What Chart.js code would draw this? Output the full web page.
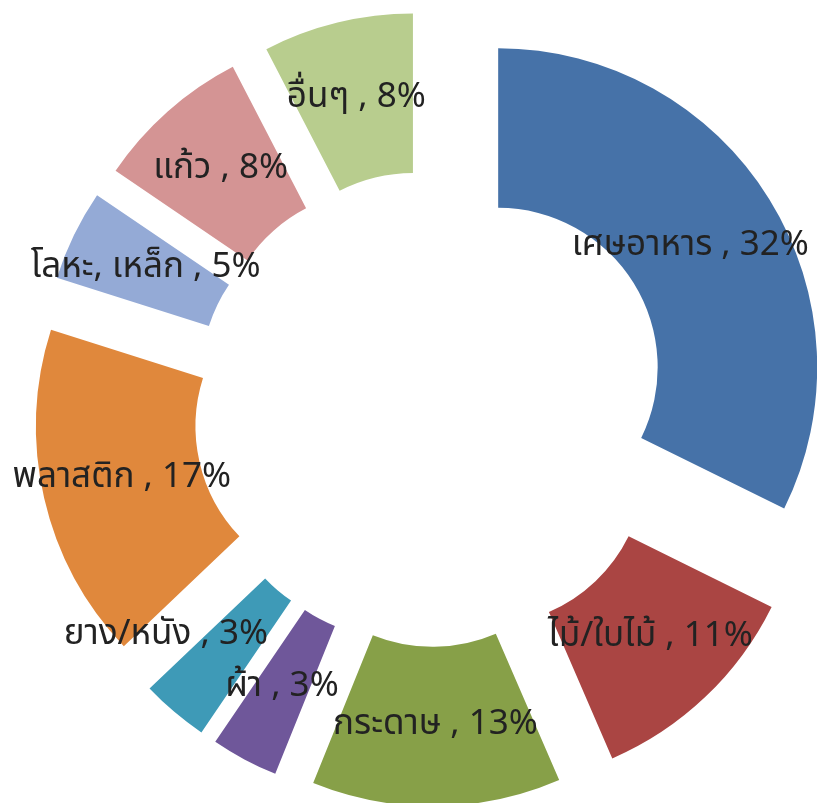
<!DOCTYPE html>
<html>
<head>
<meta charset="utf-8">
<script src="https://cdn.jsdelivr.net/npm/chart.js@4"></script>
<style>
  html, body { margin: 0; padding: 0; background: #fff; }
  #wrap { width: 817px; height: 803px; position: relative; }
</style>
</head>
<body>
<div id="wrap"><canvas id="c"></canvas></div>
<script>
// Share of each waste type (%); labels show the rounded value
const categories = ['เศษอาหาร', 'ไม้/ใบไม้', 'กระดาษ', 'ผ้า', 'ยาง/หนัง', 'พลาสติก', 'โลหะ, เหล็ก', 'แก้ว', 'อื่นๆ'];
const percentages = [32.3, 11.2, 12.6, 3.4, 3.4, 17.0, 4.6, 7.9, 7.6];
const sliceColors = ['#4672A8', '#AA4543', '#87A048', '#6F579A', '#3E9AB7', '#E0883C', '#94AAD6', '#D49494', '#B8CD8E'];

const explodePlugin = {
  id: 'explode',
  beforeDatasetDraw(chart, args, opts) {
    const ctx = chart.ctx;
    const d = opts.distance || 0;
    args.meta.data.forEach(arc => {
      const p = arc.getProps(['startAngle', 'endAngle']);
      const mid = (p.startAngle + p.endAngle) / 2;
      ctx.save();
      ctx.translate(Math.cos(mid) * d, Math.sin(mid) * d);
      arc.draw(ctx, chart.chartArea);
      ctx.restore();
    });
    return false;
  },
  afterDatasetsDraw(chart, args, opts) {
    const ctx = chart.ctx;
    const d = opts.distance || 0;
    const meta = chart.getDatasetMeta(0);
    const data = chart.data.datasets[0].data;
    const shifts = opts.labelShift || {};
    ctx.save();
    ctx.font = opts.font;
    ctx.fillStyle = opts.color;
    ctx.textAlign = 'center';
    ctx.textBaseline = 'middle';
    meta.data.forEach((arc, i) => {
      const p = arc.getProps(['x', 'y', 'startAngle', 'endAngle', 'innerRadius', 'outerRadius']);
      const mid = (p.startAngle + p.endAngle) / 2;
      const label = chart.data.labels[i];
      const text = label + ' , ' + Math.round(data[i]) + '%';
      const w = ctx.measureText(text).width;
      let r = (p.innerRadius + p.outerRadius) / 2 + d;
      let x = p.x + Math.cos(mid) * r;
      let y = p.y + Math.sin(mid) * r;
      // pull the label inward along its radius until it fits in the canvas
      while ((x + w / 2 > chart.width - 8 || x - w / 2 < 4) && r > 0) {
        r -= 1;
        x = p.x + Math.cos(mid) * r;
        y = p.y + Math.sin(mid) * r;
      }
      const s = shifts[label];
      if (s) { x += s[0]; y += s[1]; }
      ctx.fillText(text, x, y);
    });
    ctx.restore();
  }
};

new Chart(document.getElementById('c'), {
  type: 'doughnut',
  data: {
    labels: categories,
    datasets: [{
      data: percentages,
      backgroundColor: sliceColors,
      borderWidth: 0
    }]
  },
  options: {
    responsive: true,
    maintainAspectRatio: false,
    animation: false,
    radius: 319,
    cutout: '50%',
    layout: { padding: { left: 46, right: 0, top: 14.5, bottom: 0 } },
    plugins: {
      legend: { display: false },
      tooltip: { enabled: false },
      explode: {
        distance: 78.5,
        font: '35px "Noto Sans Thai", "Noto Sans", "DejaVu Sans", sans-serif',
        color: '#222222',
        labelShift: { 'ยาง/หนัง': [-60, -14] }
      }
    }
  },
  plugins: [explodePlugin]
});
</script>
</body>
</html>
